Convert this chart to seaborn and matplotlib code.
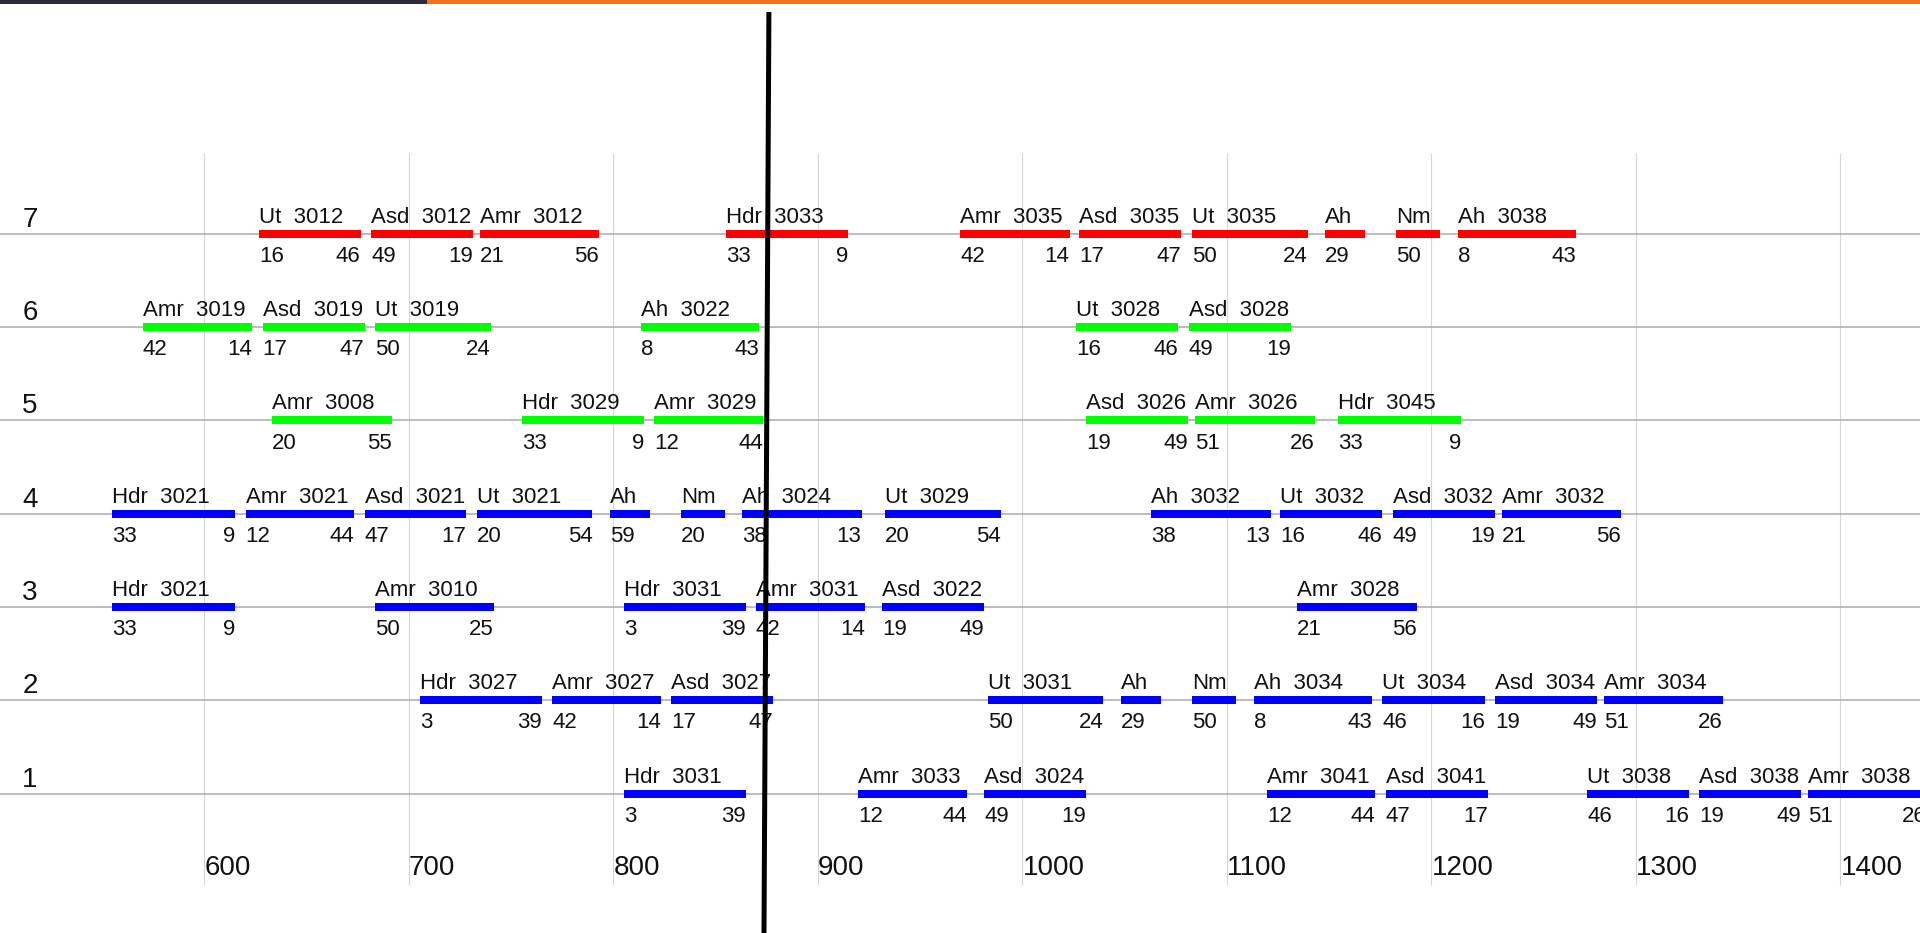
import pandas as pd
import numpy as np
import seaborn as sns
import matplotlib.pyplot as plt

# rows of the chart, bottom to top, and the colour used on each row
row_numbers = [1, 2, 3, 4, 5, 6, 7]
row_colours = ['#0000ff', '#0000ff', '#0000ff', '#0000ff', '#00ff00', '#00ff00', '#ff0000']

# one entry per segment: row, start, end, name, id, number at start, number at end
seg_row = [7] * 10 + [6] * 6 + [5] * 6 + [4] * 12 + [3] * 6 + [2] * 10 + [1] * 8
seg_start = [626.6, 681.6, 734.9, 854.9, 969.6, 1027.8, 1082.9, 1147.7, 1182.9, 1212.8,
             569.9, 628.4, 683.4, 813.3, 1026.3, 1081.3,
             632.9, 755.1, 819.8, 1031.1, 1084.4, 1154.5,
             555.0, 620.1, 678.3, 733.1, 798.2, 833.1, 863.0, 932.9, 1062.8, 1126.1, 1181.1, 1234.5,
             555.0, 683.4, 805.0, 869.6, 931.4, 1134.4,
             705.2, 770.0, 828.3, 983.1, 1048.1, 1082.9, 1113.0, 1175.9, 1231.0, 1284.4,
             805.0, 919.8, 981.3, 1119.5, 1177.7, 1276.1, 1331.0, 1384.2]
seg_end = [676.4, 731.4, 793.0, 914.8, 1023.0, 1077.6, 1139.4, 1167.6, 1204.3, 1270.9,
           623.3, 678.3, 739.9, 871.3, 1076.1, 1131.1,
           691.6, 815.0, 873.1, 1080.8, 1143.1, 1214.4,
           615.0, 673.1, 728.1, 789.7, 818.1, 854.7, 921.3, 989.6, 1121.3, 1175.9, 1231.0, 1292.5,
           615.0, 741.4, 864.8, 923.1, 981.1, 1192.7,
           764.8, 823.1, 878.1, 1039.6, 1067.8, 1104.5, 1171.1, 1226.0, 1280.9, 1342.6,
           864.8, 972.8, 1031.1, 1172.6, 1227.5, 1326.0, 1380.9, 1442.0]
seg_name = ['Ut', 'Asd', 'Amr', 'Hdr', 'Amr', 'Asd', 'Ut', 'Ah', 'Nm', 'Ah',
            'Amr', 'Asd', 'Ut', 'Ah', 'Ut', 'Asd',
            'Amr', 'Hdr', 'Amr', 'Asd', 'Amr', 'Hdr',
            'Hdr', 'Amr', 'Asd', 'Ut', 'Ah', 'Nm', 'Ah', 'Ut', 'Ah', 'Ut', 'Asd', 'Amr',
            'Hdr', 'Amr', 'Hdr', 'Amr', 'Asd', 'Amr',
            'Hdr', 'Amr', 'Asd', 'Ut', 'Ah', 'Nm', 'Ah', 'Ut', 'Asd', 'Amr',
            'Hdr', 'Amr', 'Asd', 'Amr', 'Asd', 'Ut', 'Asd', 'Amr']
seg_id = ['3012', '3012', '3012', '3033', '3035', '3035', '3035', '', '', '3038',
          '3019', '3019', '3019', '3022', '3028', '3028',
          '3008', '3029', '3029', '3026', '3026', '3045',
          '3021', '3021', '3021', '3021', '', '', '3024', '3029', '3032', '3032', '3032', '3032',
          '3021', '3010', '3031', '3031', '3022', '3028',
          '3027', '3027', '3027', '3031', '', '', '3034', '3034', '3034', '3034',
          '3031', '3033', '3024', '3041', '3041', '3038', '3038', '3038']
seg_left = ['16', '49', '21', '33', '42', '17', '50', '29', '50', '8',
            '42', '17', '50', '8', '16', '49',
            '20', '33', '12', '19', '51', '33',
            '33', '12', '47', '20', '59', '20', '38', '20', '38', '16', '49', '21',
            '33', '50', '3', '42', '19', '21',
            '3', '42', '17', '50', '29', '50', '8', '46', '19', '51',
            '3', '12', '49', '12', '47', '46', '19', '51']
seg_right = ['46', '19', '56', '9', '14', '47', '24', '', '', '43',
             '14', '47', '24', '43', '46', '19',
             '55', '9', '44', '49', '26', '9',
             '9', '44', '17', '54', '', '', '13', '54', '13', '46', '19', '56',
             '9', '25', '39', '14', '49', '56',
             '39', '14', '47', '24', '', '', '43', '16', '49', '26',
             '39', '44', '19', '44', '17', '16', '49', '26']

xtick_values = [600, 700, 800, 900, 1000, 1100, 1200, 1300, 1400]

sns.set_theme(style='white')
plt.rcParams['font.family'] = ['Liberation Sans', 'DejaVu Sans']

fig = plt.figure(figsize=(19.2, 9.33), dpi=100)
ax = fig.add_axes([0, 0, 1, 1])
ax.set_xlim(500, 1438.9)
ax.set_ylim(-0.495, 9.505)
ax.axis('off')

# strip along the top edge
ax.axhspan(9.462, 9.505, xmin=0, xmax=427 / 1920, color='#2f2b36', lw=0)
ax.axhspan(9.462, 9.505, xmin=427 / 1920, xmax=1, color='#ef7418', lw=0)

# vertical grid and x labels
ax.vlines(xtick_values, 0.02, 7.865, color='#d4d4d4', lw=0.8, zorder=1)
for v in xtick_values:
    ax.text(v, 0.126, str(v), fontsize=20, ha='left', va='baseline', color='#111111')

# row lines and row numbers
for r in row_numbers:
    ax.axhline(r, color='#a9a9a9', lw=1.1, zorder=1)
    ax.text(510.9, r + 0.075, str(r), fontsize=20, ha='left', va='baseline', color='#111111')

# segments, drawn as thick lines (two points each)
segs = pd.DataFrame({'row': seg_row, 'start': seg_start, 'end': seg_end})
segs['seg'] = np.arange(len(segs))
segs['colour'] = segs['row'].map(dict(zip(row_numbers, row_colours)))
long = segs.melt(id_vars=['seg', 'row', 'colour'], value_vars=['start', 'end'], value_name='pos')
sns.lineplot(data=long, x='pos', y='row', units='seg', estimator=None, hue='colour',
             palette={c: c for c in set(row_colours)}, lw=5.76, solid_capstyle='butt',
             legend=False, ax=ax, zorder=3)

for r, s, e, n, i, lft, rgt in zip(seg_row, seg_start, seg_end, seg_name, seg_id, seg_left, seg_right):
    top = f'{n}  {i}' if i else n
    ax.text(s, r + 0.118, top, fontsize=16, ha='left', va='baseline', color='#111111', zorder=4)
    ax.text(s, r - 0.303, lft, fontsize=16, ha='left', va='baseline', color='#111111', zorder=4)
    if rgt:
        ax.text(e, r - 0.303, rgt, fontsize=16, ha='right', va='baseline', color='#111111', zorder=4)

# black cursor line
ax.plot([876.0, 873.6], [9.376, -0.495], color='black', lw=3.6, solid_capstyle='butt', zorder=10)

fig.savefig('out.png', dpi=100)
